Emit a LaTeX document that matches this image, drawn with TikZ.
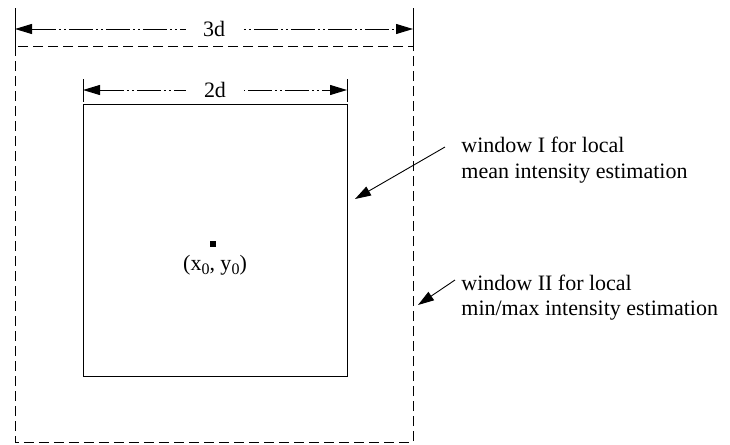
\documentclass[tikz,border=0pt]{standalone}
\usepackage{fontspec}
\setmainfont{Liberation Serif}
\usetikzlibrary{arrows.meta}
\newcommand{\lowsub}[1]{\raisebox{-0.45ex}{\fontsize{8}{8}\selectfont #1}}
\begin{document}
\begin{tikzpicture}[x=0.5pt,y=-0.5pt,
  lbl/.style={font=\fontsize{11}{13}\selectfont, inner sep=0pt},
  dimtick/.style={line width=0.5pt},
  dimline/.style={line width=0.5pt, {Triangle[length=8.5pt,width=5pt]}-{Triangle[length=8.5pt,width=5pt]}, dash pattern=on 12pt off 1.5pt on 1pt off 1.5pt on 1pt off 1.5pt},
  dimtext/.style={font=\fontsize{11}{13}\selectfont, fill=white, inner ysep=1pt},
  outerwin/.style={line width=0.5pt, dash pattern=on 5pt off 2.5pt},
  innerwin/.style={line width=0.5pt},
  pointer/.style={line width=0.45pt, -{Triangle[length=8pt,width=5pt]}},
]
\useasboundingbox (0,0) rectangle (730,445);
% windows
\coordinate (O1) at (15,46);
\coordinate (O2) at (413,442);
\coordinate (I1) at (83,104);
\coordinate (I2) at (347,376);
\draw[outerwin] (O1) rectangle (O2);
\draw[innerwin] (I1) rectangle (I2);
% 3d dimension
\coordinate (t3at) at (15,8);
\coordinate (t3ab) at (15,46);
\coordinate (t3bt) at (413,8);
\coordinate (t3bb) at (413,46);
\draw[dimtick] (t3at) -- (t3ab);
\draw[dimtick] (t3bt) -- (t3bb);
\coordinate (a3l) at (15,29);
\coordinate (a3r) at (413,29);
\draw[dimline] (a3l) -- (a3r) node[midway, dimtext, inner xsep=8.5pt] (D3) {3d};
% 2d dimension
\coordinate (t2at) at (83,79);
\coordinate (t2ab) at (83,102);
\coordinate (t2bt) at (347,79);
\coordinate (t2bb) at (347,102);
\draw[dimtick] (t2at) -- (t2ab);
\draw[dimtick] (t2bt) -- (t2bb);
\coordinate (a2l) at (83,90);
\coordinate (a2r) at (347,90);
\draw[dimline] (a2l) -- (a2r) node[midway, dimtext, inner xsep=9pt] (D2) {2d};
% centre point
\node[fill=black, minimum size=2.6pt, inner sep=0pt] (P) at (213,244) {};
\node[lbl, anchor=base] (PL) at (215,270) {(x\lowsub{0}, y\lowsub{0})};
% labels
\node[lbl, anchor=base west] (L1a) at (461,152) {window I for local};
\node[lbl, anchor=base west] (L1b) at (461,178) {mean intensity estimation};
\node[lbl, anchor=base west] (L2a) at (461,290) {window II for local};
\node[lbl, anchor=base west] (L2b) at (461,315) {min/max intensity estimation};
% pointers
\coordinate (p1s) at (445,147);
\coordinate (p1e) at (355,199);
\coordinate (p2s) at (455,280);
\coordinate (p2e) at (418,305);
\draw[pointer] (p1s) -- (p1e);
\draw[pointer] (p2s) -- (p2e);
\end{tikzpicture}
\end{document}
